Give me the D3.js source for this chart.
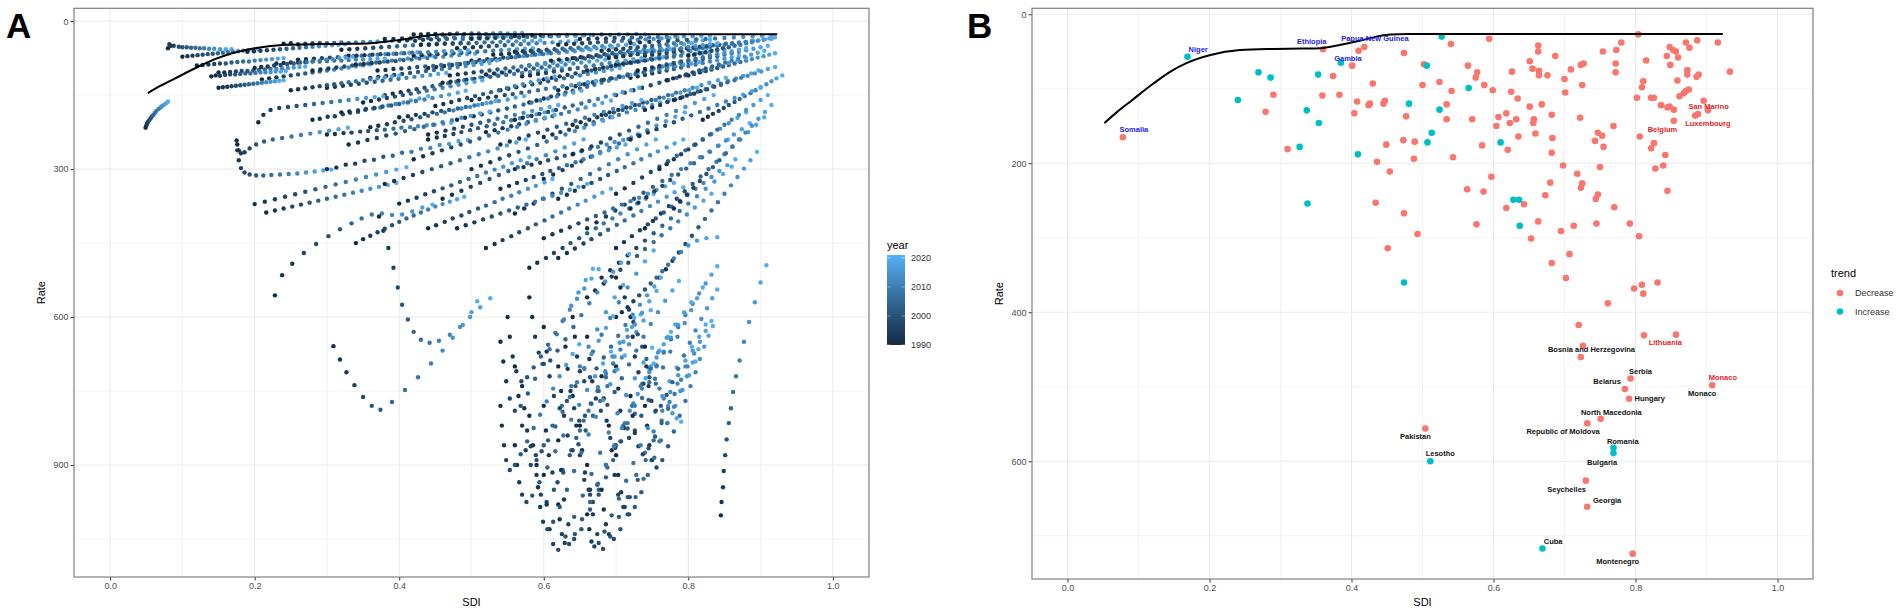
<!DOCTYPE html>
<html>
<head>
<meta charset="utf-8">
<script src="https://cdn.jsdelivr.net/npm/d3@7"></script>
<style>
  body { margin: 0; background: #fff; }
  svg text { font-family: "Liberation Sans", Arial, sans-serif; }
</style>
</head>
<body>
<div class="canvas"></div>
<script>
// ---- data ----------------------------------------------------------

// expected rate by SDI (black reference curve, both panels)
const curvePts = [[.052,146],[.07,131],[.09,116],[.121,93],[.145,77],[.169,65],[.20,55],[.243,48],
  [.29,46.5],[.33,46],[.356,45.5],[.38,42],[.41,36],[.435,30],[.455,27],[.48,26.5],[.55,26.5],
  [.65,26.5],[.75,26.5],[.85,26.5],[.923,26.5]];

// panel A: one row per country, [sdi, rate] for each year in yearsA
const yearsA = [1990,1992,1994,1996,1998,2000,2002,2004,2006,2008,2010,2012,2014,2016,2018,2020];
const trajectories = [
  [[.049,216],[.050,212],[.051,208],[.052,205],[.054,201],[.056,197],[.058,193],[.060,190],[.062,186],[.064,182],[.067,178],[.070,175],[.072,172],[.075,169],[.078,166],[.080,163]],
  [[.080,55],[.084,50],[.082,47],[.088,50],[.095,52],[.100,53],[.106,53],[.112,54],[.118,54],[.124,55],[.130,55],[.137,56],[.144,56],[.152,57],[.160,57],[.168,57]],
  [[.100,72],[.107,71],[.114,70],[.121,69],[.128,68],[.135,67],[.142,66],[.149,65],[.156,64],[.163,63],[.170,62],[.177,61],[.184,60],[.191,59],[.198,58],[.205,57]],
  [[.120,90],[.128,89],[.136,88],[.144,87],[.152,86],[.160,86],[.168,84],[.176,83],[.184,82],[.192,82],[.200,80],[.208,79],[.216,78],[.224,77],[.232,76],[.240,75]],
  [[.150,104],[.158,104],[.166,103],[.174,102],[.182,101],[.190,101],[.198,100],[.206,99],[.214,98],[.222,97],[.230,97],[.238,96],[.246,95],[.254,94],[.262,93],[.270,92]],
  [[.190,62],[.199,61],[.208,60],[.217,59],[.226,58],[.235,57],[.244,56],[.253,55],[.262,54],[.271,53],[.280,52],[.289,51],[.298,50],[.307,49],[.316,48],[.325,47]],
  [[.210,118],[.220,116],[.230,114],[.240,112],[.250,110],[.260,108],[.270,106],[.280,104],[.290,102],[.300,100],[.310,98],[.320,96],[.330,94],[.340,92],[.350,90],[.360,88]],
  [[.240,46],[.250,45],[.260,47],[.270,46],[.280,45],[.290,44],[.300,45],[.310,44],[.320,43],[.330,44],[.340,43],[.350,42],[.360,42],[.370,41],[.380,41],[.390,40]],
  [[.260,78],[.271,77],[.282,76],[.293,75],[.304,74],[.315,73],[.326,72],[.337,71],[.348,70],[.359,69],[.370,68],[.381,67],[.392,66],[.403,65],[.414,64],[.425,63]],
  [[.280,100],[.291,98],[.302,96],[.313,94],[.324,92],[.335,90],[.346,88],[.357,86],[.368,84],[.379,82],[.390,80],[.401,78],[.412,76],[.423,74],[.434,72],[.445,70]],
  [[.300,135],[.311,133],[.322,131],[.333,129],[.344,127],[.355,125],[.366,123],[.377,121],[.388,119],[.399,117],[.410,115],[.421,113],[.432,111],[.443,109],[.454,107],[.465,105]],
  [[.320,58],[.331,57],[.342,56],[.353,55],[.364,54],[.375,53],[.386,52],[.397,51],[.408,50],[.419,49],[.430,48],[.441,47],[.452,46],[.463,45],[.474,44],[.485,43]],
  [[.340,88],[.351,87],[.362,85],[.373,84],[.384,82],[.395,81],[.406,79],[.417,78],[.428,76],[.439,75],[.450,73],[.461,72],[.472,70],[.483,69],[.494,67],[.505,66]],
  [[.360,115],[.371,113],[.382,111],[.393,109],[.404,107],[.415,105],[.426,103],[.437,101],[.448,99],[.459,97],[.470,95],[.481,93],[.492,91],[.503,89],[.514,87],[.525,85]],
  [[.380,150],[.391,147],[.402,144],[.413,141],[.424,138],[.435,135],[.446,132],[.457,129],[.468,126],[.479,123],[.490,120],[.501,117],[.512,114],[.523,111],[.534,108],[.545,105]],
  [[.400,40],[.411,39],[.422,40],[.433,38],[.444,37],[.455,38],[.466,36],[.477,35],[.488,36],[.499,34],[.510,33],[.521,34],[.532,32],[.543,31],[.554,31],[.565,30]],
  [[.420,70],[.431,69],[.442,68],[.453,67],[.464,66],[.475,65],[.486,64],[.497,63],[.508,62],[.519,61],[.530,60],[.541,59],[.552,58],[.563,57],[.574,56],[.585,55]],
  [[.440,95],[.451,93],[.462,91],[.473,89],[.484,87],[.495,85],[.506,83],[.517,81],[.528,79],[.539,77],[.550,75],[.561,73],[.572,71],[.583,69],[.594,67],[.605,65]],
  [[.460,125],[.471,123],[.482,121],[.493,119],[.504,117],[.515,115],[.526,113],[.537,111],[.548,109],[.559,107],[.570,105],[.581,103],[.592,101],[.603,99],[.614,97],[.625,95]],
  [[.480,55],[.491,54],[.502,53],[.513,52],[.524,51],[.535,50],[.546,49],[.557,48],[.568,47],[.579,46],[.590,45],[.601,44],[.612,43],[.623,42],[.634,41],[.645,40]],
  [[.500,80],[.511,79],[.522,77],[.533,76],[.544,74],[.555,73],[.566,71],[.577,70],[.588,68],[.599,67],[.610,65],[.621,64],[.632,62],[.643,61],[.654,59],[.665,58]],
  [[.520,108],[.531,106],[.542,104],[.553,102],[.564,100],[.575,98],[.586,96],[.597,94],[.608,92],[.619,90],[.630,88],[.641,86],[.652,84],[.663,82],[.674,80],[.685,78]],
  [[.540,140],[.551,137],[.562,134],[.573,131],[.584,128],[.595,125],[.606,122],[.617,119],[.628,116],[.639,113],[.650,110],[.661,107],[.672,104],[.683,101],[.694,98],[.705,95]],
  [[.560,62],[.571,61],[.582,60],[.593,59],[.604,58],[.615,57],[.626,56],[.637,55],[.648,54],[.659,53],[.670,52],[.681,51],[.692,50],[.703,49],[.714,48],[.725,47]],
  [[.580,90],[.591,88],[.602,86],[.613,84],[.624,82],[.635,80],[.646,78],[.657,76],[.668,74],[.679,72],[.690,70],[.701,68],[.712,66],[.723,64],[.734,62],[.745,60]],
  [[.600,118],[.611,115],[.622,112],[.633,109],[.644,106],[.655,103],[.666,100],[.677,97],[.688,94],[.699,91],[.710,88],[.721,85],[.732,82],[.743,79],[.754,76],[.765,73]],
  [[.620,48],[.631,47],[.642,46],[.653,45],[.664,44],[.675,43],[.686,42],[.697,41],[.708,40],[.719,39],[.730,38],[.741,37],[.752,36],[.763,35],[.774,34],[.785,33]],
  [[.640,75],[.651,73],[.662,71],[.673,69],[.684,67],[.695,65],[.706,63],[.717,61],[.728,59],[.739,57],[.750,55],[.761,53],[.772,51],[.783,49],[.794,47],[.805,45]],
  [[.660,100],[.671,97],[.682,94],[.693,91],[.704,88],[.715,85],[.726,82],[.737,79],[.748,76],[.759,73],[.770,70],[.781,67],[.792,64],[.803,61],[.814,58],[.825,55]],
  [[.680,60],[.690,59],[.700,57],[.710,56],[.720,54],[.730,53],[.740,51],[.750,50],[.760,48],[.770,47],[.780,45],[.790,44],[.800,42],[.810,41],[.820,39],[.830,38]],
  [[.700,88],[.710,86],[.720,84],[.730,82],[.740,80],[.750,78],[.760,76],[.770,74],[.780,72],[.790,70],[.800,68],[.810,66],[.820,64],[.830,62],[.840,60],[.850,58]],
  [[.720,115],[.730,112],[.740,109],[.750,106],[.760,103],[.770,100],[.780,97],[.790,94],[.800,91],[.810,88],[.820,85],[.830,82],[.840,79],[.850,76],[.860,73],[.870,70]],
  [[.740,70],[.750,68],[.760,66],[.770,64],[.780,62],[.790,60],[.800,58],[.810,56],[.820,54],[.830,52],[.840,50],[.850,48],[.860,46],[.870,44],[.880,42],[.890,40]],
  [[.760,95],[.770,92],[.780,89],[.790,86],[.800,83],[.810,80],[.820,77],[.830,74],[.840,71],[.850,68],[.860,65],[.870,62],[.880,59],[.890,56],[.900,53],[.910,50]],
  [[.780,58],[.789,57],[.798,55],[.807,54],[.816,52],[.825,51],[.834,49],[.843,48],[.852,46],[.861,45],[.870,43],[.879,42],[.888,40],[.897,39],[.906,37],[.915,36]],
  [[.380,36],[.392,36],[.404,35],[.416,35],[.428,34],[.440,34],[.452,33],[.464,33],[.476,33],[.488,32],[.500,32],[.512,31],[.524,31],[.536,31],[.548,30],[.560,30]],
  [[.420,27],[.430,27],[.440,26],[.450,26],[.460,27],[.470,26],[.480,25],[.490,26],[.500,25],[.510,25],[.520,26],[.530,25],[.540,24],[.550,25],[.560,24],[.570,24]],
  [[.560,30],[.572,30],[.584,29],[.596,29],[.608,30],[.620,29],[.632,28],[.644,29],[.656,28],[.668,28],[.680,27],[.692,28],[.704,27],[.716,27],[.728,26],[.740,27]],
  [[.650,36],[.662,36],[.674,35],[.686,35],[.698,34],[.710,34],[.722,33],[.734,33],[.746,33],[.758,32],[.770,32],[.782,31],[.794,31],[.806,31],[.818,30],[.830,30]],
  [[.720,44],[.733,43],[.746,42],[.759,41],[.772,40],[.785,39],[.798,38],[.811,37],[.824,36],[.837,35],[.850,34],[.863,33],[.876,32],[.889,31],[.902,30],[.915,29]],
  [[.350,165],[.361,162],[.372,159],[.383,156],[.394,153],[.405,150],[.416,147],[.427,144],[.438,141],[.449,138],[.460,135],[.471,132],[.482,129],[.493,126],[.504,123],[.515,120]],
  [[.450,172],[.461,168],[.472,164],[.483,160],[.494,156],[.505,152],[.516,148],[.527,144],[.538,140],[.549,136],[.560,132],[.571,128],[.582,124],[.593,120],[.604,116],[.615,112]],
  [[.580,165],[.590,161],[.600,157],[.610,153],[.620,149],[.630,145],[.640,141],[.650,137],[.660,133],[.670,129],[.680,125],[.690,121],[.700,117],[.710,113],[.720,109],[.730,105]],
  [[.250,140],[.260,138],[.270,136],[.280,134],[.290,132],[.300,130],[.310,128],[.320,126],[.330,124],[.340,122],[.350,120],[.360,118],[.370,116],[.380,114],[.390,112],[.400,110]],
  [[.150,135],[.156,134],[.162,133],[.168,132],[.174,131],[.180,130],[.186,129],[.192,128],[.198,127],[.204,126],[.210,125],[.216,124],[.222,123],[.228,122],[.234,121],[.240,120]],
  [[.800,110],[.808,107],[.816,104],[.824,101],[.832,98],[.840,95],[.848,92],[.856,89],[.864,86],[.872,83],[.880,80],[.888,77],[.896,74],[.904,71],[.912,68],[.920,65]],
  [[.500,36],[.511,35],[.522,35],[.533,34],[.544,34],[.555,33],[.566,33],[.577,32],[.588,32],[.599,31],[.610,31],[.621,30],[.632,30],[.643,29],[.654,29],[.665,28]],
  [[.620,140],[.632,136],[.644,132],[.656,128],[.668,124],[.680,120],[.692,116],[.704,112],[.716,108],[.728,104],[.740,100],[.752,96],[.764,92],[.776,88],[.788,84],[.800,80]],
  [[.700,150],[.712,145],[.724,140],[.736,135],[.748,130],[.760,125],[.772,120],[.784,115],[.796,110],[.808,105],[.820,100],[.832,95],[.844,90],[.856,85],[.868,80],[.880,75]],
  [[.140,112],[.146,110],[.152,111],[.159,109],[.166,108],[.173,108],[.180,107],[.187,106],[.194,106],[.201,105],[.208,104],[.215,104],[.222,103],[.229,102],[.236,102],[.243,101]],
  [[.230,86],[.240,85],[.250,84],[.260,84],[.270,83],[.280,82],[.290,82],[.300,81],[.310,80],[.320,80],[.330,79],[.340,78],[.350,78],[.360,77],[.370,76],[.380,76]],
  [[.330,70],[.341,70],[.352,69],[.363,68],[.374,67],[.385,67],[.396,66],[.407,65],[.418,64],[.429,64],[.440,63],[.451,62],[.462,61],[.473,61],[.484,60],[.495,59]],
  [[.370,100],[.381,99],[.392,97],[.403,96],[.414,95],[.425,93],[.436,92],[.447,91],[.458,89],[.469,88],[.480,87],[.491,85],[.502,84],[.513,83],[.524,81],[.535,80]],
  [[.430,48],[.441,48],[.452,47],[.463,46],[.474,46],[.485,45],[.496,45],[.507,44],[.518,43],[.529,43],[.540,42],[.551,41],[.562,41],[.573,40],[.584,40],[.595,39]],
  [[.470,110],[.481,108],[.492,106],[.503,104],[.514,102],[.525,100],[.536,98],[.547,96],[.558,94],[.569,92],[.580,90],[.591,88],[.602,86],[.613,84],[.624,82],[.635,80]],
  [[.530,68],[.541,67],[.552,66],[.563,65],[.574,64],[.585,63],[.596,62],[.607,61],[.618,60],[.629,59],[.640,58],[.651,57],[.662,56],[.673,55],[.684,54],[.695,53]],
  [[.570,112],[.581,110],[.592,107],[.603,105],[.614,102],[.625,100],[.636,97],[.647,95],[.658,92],[.669,90],[.680,87],[.691,85],[.702,82],[.713,80],[.724,77],[.735,75]],
  [[.610,80],[.621,78],[.632,77],[.643,75],[.654,74],[.665,72],[.676,71],[.687,69],[.698,68],[.709,66],[.720,65],[.731,63],[.742,62],[.753,60],[.764,59],[.775,57]],
  [[.650,128],[.661,125],[.672,122],[.683,119],[.694,116],[.705,113],[.716,110],[.727,107],[.738,104],[.749,101],[.760,98],[.771,95],[.782,92],[.793,89],[.804,86],[.815,83]],
  [[.690,75],[.700,73],[.710,71],[.720,69],[.730,67],[.740,65],[.750,63],[.760,61],[.770,59],[.780,57],[.790,55],[.800,53],[.810,51],[.820,49],[.830,47],[.840,45]],
  [[.730,100],[.740,97],[.750,94],[.760,91],[.770,88],[.780,85],[.790,82],[.800,79],[.810,76],[.820,73],[.830,70],[.840,67],[.850,64],[.860,61],[.870,58],[.880,55]],
  [[.770,120],[.779,116],[.788,112],[.797,108],[.806,104],[.815,100],[.824,96],[.833,92],[.842,88],[.851,84],[.860,80],[.869,76],[.878,72],[.887,68],[.896,64],[.905,60]],
  [[.800,70],[.808,68],[.816,65],[.824,63],[.832,60],[.840,58],[.848,55],[.856,53],[.864,50],[.872,48],[.880,45],[.888,43],[.896,40],[.904,38],[.912,35],[.920,33]],
  [[.200,95],[.209,93],[.218,92],[.227,90],[.236,89],[.245,87],[.254,86],[.263,84],[.272,83],[.281,81],[.290,80],[.299,78],[.308,77],[.317,75],[.326,74],[.335,72]],
  // rate 120-300 band
  [[.280,200],[.290,198],[.301,194],[.311,193],[.322,189],[.332,186],[.343,184],[.353,180],[.364,177],[.374,175],[.385,171],[.395,168],[.406,165],[.416,161],[.428,157],[.440,152]],
  [[.320,185],[.331,183],[.343,181],[.354,178],[.366,176],[.377,173],[.389,171],[.400,168],[.412,165],[.423,162],[.435,159],[.446,156],[.458,152],[.469,149],[.481,145],[.492,141]],
  [[.360,215],[.371,212],[.383,209],[.394,205],[.406,202],[.417,199],[.429,195],[.440,192],[.452,188],[.463,185],[.475,181],[.486,177],[.498,174],[.509,170],[.521,166],[.533,162]],
  [[.400,195],[.412,193],[.423,190],[.435,188],[.446,185],[.458,182],[.469,180],[.481,177],[.492,174],[.504,171],[.515,168],[.527,165],[.538,162],[.550,159],[.561,155],[.573,152]],
  [[.440,240],[.452,236],[.463,233],[.475,229],[.486,225],[.498,221],[.509,217],[.521,213],[.532,209],[.544,205],[.555,201],[.567,197],[.578,193],[.590,189],[.601,185],[.613,181]],
  [[.480,200],[.491,196],[.503,193],[.514,189],[.526,185],[.537,181],[.549,177],[.560,173],[.572,169],[.583,165],[.595,161],[.606,157],[.618,153],[.629,149],[.641,145],[.652,141]],
  [[.520,225],[.532,221],[.543,217],[.555,213],[.566,209],[.578,205],[.589,201],[.601,197],[.612,193],[.624,188],[.635,184],[.647,179],[.658,175],[.670,170],[.681,166],[.693,161]],
  [[.560,200],[.571,196],[.583,192],[.594,188],[.606,184],[.617,180],[.629,175],[.640,171],[.652,167],[.663,162],[.675,158],[.686,153],[.698,149],[.709,144],[.721,140],[.732,135]],
  [[.600,235],[.612,230],[.623,225],[.635,220],[.646,215],[.658,210],[.669,205],[.681,200],[.692,195],[.704,190],[.715,185],[.727,180],[.738,175],[.750,170],[.761,165],[.773,160]],
  [[.640,210],[.651,205],[.663,200],[.674,195],[.686,190],[.697,185],[.709,180],[.720,175],[.732,170],[.743,165],[.755,160],[.766,155],[.778,150],[.789,145],[.801,140],[.812,135]],
  [[.680,190],[.691,185],[.703,180],[.714,175],[.726,170],[.737,165],[.749,160],[.760,155],[.772,150],[.783,145],[.795,140],[.806,135],[.818,130],[.829,125],[.841,120],[.852,115]],
  [[.740,180],[.750,175],[.761,170],[.771,164],[.782,159],[.792,154],[.803,148],[.813,143],[.824,138],[.834,132],[.845,127],[.855,122],[.866,116],[.876,111],[.887,106],[.897,100]],
  [[.780,160],[.789,156],[.798,151],[.808,147],[.817,142],[.826,138],[.836,133],[.845,129],[.854,124],[.864,120],[.873,115],[.882,111],[.892,106],[.901,102],[.910,97],[.920,93]],
  [[.820,200],[.827,194],[.834,188],[.842,182],[.849,176],[.856,170],[.864,164],[.871,158],[.878,152],[.886,146],[.893,140],[.900,134],[.908,128],[.915,122],[.922,116],[.930,110]],
  [[.500,160],[.511,158],[.523,155],[.534,153],[.546,150],[.557,148],[.569,145],[.580,143],[.592,140],[.603,137],[.615,135],[.626,132],[.638,130],[.649,127],[.661,124],[.672,122]],
  [[.205,205],[.212,190],[.222,180],[.234,176],[.246,174],[.258,172],[.270,170],[.282,168],[.294,166],[.306,164],[.318,162],[.330,160],[.342,158],[.354,156],[.366,154],[.378,152]],
  [[.176,250],[.178,262],[.181,268],[.186,266],[.193,258],[.202,250],[.213,244],[.225,240],[.238,237],[.251,234],[.264,231],[.277,228],[.290,225],[.303,222],[.316,219],[.329,216]],
  [[.300,230],[.311,229],[.323,227],[.334,226],[.346,224],[.357,223],[.369,221],[.380,220],[.392,218],[.403,216],[.415,215],[.426,213],[.438,211],[.449,210],[.461,208],[.472,206]],
  [[.560,300],[.572,296],[.583,291],[.595,287],[.606,282],[.618,278],[.629,273],[.641,269],[.652,264],[.664,259],[.675,255],[.687,250],[.698,245],[.710,241],[.721,236],[.733,231]],
  [[.620,360],[.632,352],[.643,344],[.655,336],[.666,328],[.678,320],[.689,312],[.701,304],[.712,296],[.724,288],[.735,280],[.747,272],[.758,264],[.770,256],[.781,248],[.793,240]],
  // middle band
  [[.175,242],[.176,262],[.178,282],[.181,298],[.186,307],[.193,311],[.202,313],[.212,313],[.223,312],[.235,311],[.247,310],[.259,309],[.271,307],[.283,305],[.295,303],[.306,301]],
  [[.200,371],[.214,366],[.228,361],[.242,356],[.256,351],[.270,346],[.284,341],[.298,336],[.312,331],[.326,326],[.340,321],[.354,316],[.368,311],[.382,306],[.396,301],[.410,296]],
  [[.216,388],[.228,384],[.240,380],[.252,376],[.264,372],[.276,368],[.288,364],[.300,360],[.312,356],[.324,352],[.336,348],[.348,344],[.360,340],[.372,336],[.384,332],[.396,328]],
  [[.228,556],[.238,515],[.252,492],[.268,470],[.285,452],[.302,436],[.318,422],[.334,410],[.348,400],[.362,392],[.376,390],[.390,393],[.404,392],[.418,386],[.432,378],[.446,372]],
  [[.372,396],[.378,425],[.385,460],[.392,500],[.398,540],[.404,575],[.412,605],[.420,630],[.430,646],[.442,652],[.455,648],[.470,636],[.484,620],[.498,600],[.512,580],[.526,562]],
  [[.309,659],[.318,686],[.327,712],[.338,738],[.350,762],[.362,780],[.374,788],[.390,772],[.408,748],[.426,722],[.444,694],[.460,668],[.474,642],[.488,616],[.500,590],[.508,568]],
  [[.300,300],[.313,297],[.326,291],[.339,289],[.352,283],[.365,281],[.378,275],[.391,273],[.404,267],[.417,265],[.430,259],[.443,257],[.456,251],[.469,249],[.482,243],[.495,241]],
  [[.330,250],[.343,246],[.356,241],[.369,237],[.382,232],[.395,228],[.408,223],[.421,219],[.434,214],[.447,210],[.460,205],[.473,201],[.486,196],[.499,192],[.512,187],[.525,183]],
  [[.380,330],[.393,324],[.406,318],[.419,312],[.432,306],[.445,300],[.458,294],[.471,288],[.484,282],[.497,276],[.510,270],[.523,264],[.536,258],[.549,252],[.562,246],[.575,240]],
  [[.420,280],[.433,274],[.446,268],[.459,262],[.472,256],[.485,250],[.498,244],[.511,238],[.524,232],[.537,226],[.550,220],[.563,214],[.576,208],[.589,202],[.602,196],[.615,190]],
  [[.460,360],[.473,352],[.486,344],[.499,336],[.512,328],[.525,320],[.538,312],[.551,304],[.564,296],[.577,288],[.590,280],[.603,272],[.616,264],[.629,256],[.642,248],[.655,240]],
  [[.500,300],[.513,293],[.526,286],[.539,279],[.552,272],[.565,265],[.578,258],[.591,251],[.604,244],[.617,237],[.630,230],[.643,223],[.656,216],[.669,209],[.682,202],[.695,195]],
  [[.540,250],[.553,244],[.566,238],[.579,232],[.592,226],[.605,220],[.618,214],[.631,208],[.644,202],[.657,196],[.670,190],[.683,184],[.696,178],[.709,172],[.722,166],[.735,160]],
  [[.560,390],[.573,380],[.586,370],[.599,360],[.612,350],[.625,340],[.638,330],[.651,320],[.664,310],[.677,300],[.690,290],[.703,280],[.716,270],[.729,260],[.742,250],[.755,240]],
  [[.600,320],[.613,311],[.626,302],[.639,293],[.652,284],[.665,275],[.678,266],[.691,257],[.704,248],[.717,239],[.730,230],[.743,221],[.756,212],[.769,203],[.782,194],[.795,185]],
  [[.640,270],[.653,262],[.666,254],[.679,246],[.692,238],[.705,230],[.718,222],[.731,214],[.744,206],[.757,198],[.770,190],[.783,182],[.796,174],[.809,166],[.822,158],[.835,150]],
  [[.660,420],[.673,408],[.686,396],[.699,384],[.712,372],[.725,360],[.738,348],[.751,336],[.764,324],[.777,312],[.790,300],[.803,288],[.816,276],[.829,264],[.842,252],[.855,240]],
  [[.700,350],[.712,339],[.724,328],[.736,317],[.748,306],[.760,295],[.772,284],[.784,273],[.796,262],[.808,251],[.820,240],[.832,229],[.844,218],[.856,207],[.868,196],[.880,185]],
  [[.720,240],[.732,233],[.744,226],[.756,219],[.768,212],[.780,205],[.792,198],[.804,191],[.816,184],[.828,177],[.840,170],[.852,163],[.864,156],[.876,149],[.888,142],[.900,135]],
  [[.740,420],[.751,405],[.762,390],[.773,375],[.784,360],[.795,345],[.806,330],[.817,315],[.828,300],[.839,285],[.850,270],[.861,255],[.872,240],[.883,225],[.894,210],[.905,195]],
  [[.600,440],[.612,432],[.624,425],[.636,418],[.648,410],[.660,402],[.672,395],[.684,388],[.696,380],[.708,372],[.720,365],[.732,358],[.744,350],[.756,342],[.768,335],[.780,328]],
  [[.480,420],[.492,414],[.504,408],[.516,402],[.528,396],[.540,390],[.552,384],[.564,378],[.576,372],[.588,366],[.600,360],[.612,354],[.624,348],[.636,342],[.648,336],[.660,330]],
  [[.440,230],[.452,226],[.464,222],[.476,218],[.488,214],[.500,210],[.512,206],[.524,202],[.536,198],[.548,194],[.560,190],[.572,186],[.584,182],[.596,178],[.608,174],[.620,170]],
  [[.760,300],[.770,290],[.780,280],[.790,270],[.800,260],[.810,250],[.820,240],[.830,230],[.840,220],[.850,210],[.860,200],[.870,190],[.880,180],[.890,170],[.900,160],[.910,150]],
  [[.680,520],[.692,505],[.704,490],[.716,475],[.728,460],[.740,445],[.752,430],[.764,415],[.776,400],[.788,385],[.800,370],[.812,355],[.824,340],[.836,325],[.848,310],[.860,295]],
  [[.400,370],[.412,364],[.424,358],[.436,351],[.448,345],[.460,339],[.472,333],[.484,326],[.496,320],[.508,314],[.520,307],[.532,301],[.544,295],[.556,288],[.568,282],[.580,276]],
  [[.440,420],[.451,414],[.463,407],[.474,400],[.486,394],[.497,387],[.509,380],[.520,374],[.532,367],[.543,360],[.555,354],[.566,347],[.578,340],[.589,334],[.601,327],[.612,320]],
  [[.520,460],[.532,452],[.543,444],[.555,436],[.566,428],[.578,420],[.589,412],[.601,404],[.612,396],[.624,388],[.635,380],[.647,372],[.658,364],[.670,356],[.681,348],[.693,340]],
  [[.580,500],[.591,490],[.603,480],[.614,470],[.626,460],[.637,450],[.649,440],[.660,430],[.672,420],[.683,410],[.695,400],[.706,390],[.718,380],[.729,370],[.741,360],[.752,350]],
  [[.620,480],[.632,470],[.643,461],[.655,451],[.666,442],[.678,432],[.689,423],[.701,413],[.712,404],[.724,394],[.735,385],[.747,375],[.758,366],[.770,356],[.781,347],[.793,337]],
  [[.700,460],[.711,448],[.722,436],[.733,424],[.744,412],[.755,400],[.766,388],[.777,376],[.788,364],[.799,352],[.810,340],[.821,328],[.832,316],[.843,304],[.854,292],[.865,280]],
  [[.720,380],[.731,368],[.742,357],[.753,345],[.764,334],[.775,322],[.786,311],[.797,299],[.808,288],[.819,276],[.830,265],[.841,253],[.852,242],[.863,230],[.874,219],[.885,207]],
  [[.780,380],[.789,366],[.798,352],[.807,338],[.816,324],[.825,310],[.834,296],[.843,282],[.852,268],[.861,254],[.870,240],[.879,226],[.888,212],[.897,198],[.906,184],[.915,170]],
  [[.540,340],[.552,334],[.563,328],[.575,322],[.586,316],[.598,310],[.609,304],[.621,298],[.632,292],[.644,286],[.655,280],[.667,274],[.678,268],[.690,262],[.701,256],[.713,250]],
  [[.340,450],[.350,442],[.360,435],[.370,428],[.380,421],[.390,414],[.400,407],[.410,400],[.420,394],[.430,388],[.440,382],[.450,376],[.460,371],[.470,366],[.480,361],[.490,356]],
  [[.660,560],[.671,546],[.683,532],[.694,518],[.706,504],[.717,490],[.729,476],[.740,462],[.752,448],[.763,434],[.775,420],[.786,406],[.798,392],[.809,378],[.821,364],[.832,350]],
  [[.760,520],[.769,503],[.778,486],[.787,469],[.796,452],[.805,435],[.814,418],[.823,401],[.832,384],[.841,367],[.850,350],[.859,333],[.868,316],[.877,299],[.886,282],[.895,265]],
  // deep cluster
  [[.560,700],[.565,760],[.570,820],[.575,870],[.582,900],[.590,890],[.600,860],[.612,820],[.625,780],[.638,740],[.650,700],[.662,660],[.674,625],[.686,590],[.698,560],[.710,535]],
  [[.580,800],[.585,860],[.590,920],[.596,960],[.604,975],[.614,950],[.626,910],[.638,870],[.650,830],[.662,790],[.674,750],[.686,715],[.698,680],[.710,650],[.722,620],[.734,595]],
  [[.620,850],[.624,910],[.628,970],[.634,1020],[.642,1050],[.652,1030],[.664,990],[.676,950],[.688,905],[.700,860],[.712,815],[.724,775],[.736,735],[.748,700],[.760,668],[.772,640]],
  [[.640,760],[.645,820],[.650,880],[.656,930],[.664,960],[.674,940],[.686,900],[.698,860],[.710,820],[.722,780],[.734,740],[.746,705],[.758,672],[.770,642],[.782,615],[.794,590]],
  [[.660,900],[.664,950],[.668,1000],[.674,1040],[.682,1070],[.692,1045],[.704,1005],[.716,965],[.728,920],[.740,875],[.752,832],[.764,790],[.775,752],[.786,718],[.796,688],[.805,660]],
  [[.600,620],[.604,670],[.608,720],[.614,760],[.622,785],[.632,770],[.644,740],[.656,705],[.668,670],[.680,636],[.692,602],[.704,570],[.716,540],[.728,512],[.740,487],[.752,465]],
  [[.690,820],[.694,870],[.698,920],[.703,960],[.710,985],[.719,965],[.730,930],[.741,890],[.752,850],[.763,810],[.774,772],[.785,735],[.796,700],[.806,668],[.815,640],[.824,615]],
  [[.540,650],[.544,690],[.548,730],[.553,765],[.560,790],[.568,780],[.578,755],[.588,725],[.598,695],[.608,665],[.618,635],[.628,605],[.638,577],[.648,550],[.658,525],[.668,502]],
  [[.700,700],[.703,745],[.706,790],[.711,825],[.718,845],[.726,830],[.735,800],[.745,768],[.755,735],[.765,702],[.775,670],[.785,640],[.795,612],[.804,586],[.812,562],[.820,540]],
  [[.620,700],[.624,750],[.628,800],[.633,840],[.640,870],[.648,858],[.658,830],[.668,800],[.678,770],[.688,740],[.698,710],[.708,682],[.718,655],[.728,630],[.738,607],[.748,586]],
  [[.660,640],[.663,685],[.667,730],[.672,765],[.679,790],[.688,778],[.698,752],[.708,724],[.718,696],[.728,668],[.738,640],[.748,614],[.758,590],[.768,567],[.778,546],[.787,527]],
  [[.580,560],[.584,600],[.588,640],[.593,672],[.600,695],[.609,688],[.619,668],[.630,645],[.641,620],[.652,596],[.663,572],[.674,550],[.685,528],[.696,508],[.707,490],[.718,472]],
  [[.720,600],[.723,640],[.726,680],[.731,712],[.738,735],[.746,722],[.756,698],[.766,672],[.776,645],[.786,620],[.796,596],[.806,573],[.815,552],[.824,532],[.832,514],[.840,497]],
  [[.600,920],[.604,980],[.608,1030],[.613,1060],[.620,1072],[.630,1045],[.642,1005],[.654,962],[.666,918],[.678,875],[.690,834],[.702,795],[.714,758],[.726,724],[.738,692],[.750,662]],
  [[.680,950],[.683,990],[.686,1020],[.690,1040],[.697,1050],[.706,1030],[.716,1000],[.727,965],[.738,928],[.749,890],[.760,852],[.771,815],[.782,780],[.792,748],[.801,718],[.810,690]],
  [[.560,860],[.563,900],[.566,935],[.570,960],[.576,975],[.584,962],[.594,935],[.605,905],[.616,872],[.627,840],[.638,808],[.649,778],[.660,748],[.671,720],[.682,694],[.693,670]],
  [[.640,600],[.643,640],[.646,680],[.650,710],[.656,730],[.664,722],[.673,704],[.683,682],[.693,660],[.703,638],[.713,616],[.723,595],[.733,575],[.743,556],[.753,538],[.762,520]],
  [[.845,1002],[.846,975],[.848,945],[.849,912],[.851,880],[.853,848],[.856,815],[.859,785],[.862,752],[.866,720],[.871,688],[.877,650],[.884,610],[.892,570],[.900,530],[.908,495]],
  [[.740,780],[.743,820],[.746,860],[.750,890],[.756,905],[.764,890],[.772,862],[.780,832],[.788,800],[.796,770],[.803,740],[.810,712],[.816,685],[.822,660],[.828,638],[.834,618]],
  [[.540,780],[.542,820],[.545,860],[.548,890],[.553,910],[.560,900],[.568,878],[.577,852],[.586,825],[.595,798],[.604,771],[.613,745],[.622,720],[.631,697],[.640,675],[.649,655]],
  [[.700,520],[.706,540],[.712,560],[.718,585],[.724,610],[.730,635],[.736,660],[.742,685],[.748,705],[.754,725],[.760,745],[.766,765],[.772,780],[.778,795],[.784,805],[.790,812]],
  [[.700,600],[.708,590],[.716,580],[.724,568],[.732,556],[.740,544],[.748,532],[.756,520],[.764,507],[.772,494],[.780,481],[.790,468],[.800,455],[.812,445],[.825,440],[.840,438]],
  [[.600,780],[.603,830],[.607,880],[.612,915],[.619,935],[.627,915],[.636,880],[.645,845],[.655,810],[.665,775],[.675,742],[.685,710],[.695,680],[.705,652],[.715,626],[.725,602]],
  [[.650,820],[.653,870],[.657,915],[.662,950],[.668,975],[.676,960],[.686,925],[.696,890],[.706,852],[.716,815],[.726,780],[.736,745],[.746,712],[.756,682],[.766,655],[.776,630]],
  [[.700,880],[.703,920],[.707,955],[.712,985],[.718,1000],[.726,985],[.735,955],[.744,920],[.753,885],[.762,850],[.771,815],[.780,782],[.789,750],[.798,720],[.806,692],[.814,665]],
  [[.570,740],[.573,785],[.577,830],[.582,862],[.589,880],[.597,872],[.606,850],[.616,822],[.626,792],[.636,762],[.646,732],[.656,703],[.666,675],[.676,648],[.686,622],[.696,598]],
  [[.630,660],[.633,705],[.637,750],[.642,785],[.649,810],[.657,800],[.666,776],[.676,750],[.686,722],[.696,694],[.706,666],[.716,640],[.726,615],[.736,591],[.746,568],[.756,547]],
  [[.680,720],[.683,765],[.687,810],[.692,845],[.699,865],[.707,852],[.716,826],[.726,796],[.736,764],[.746,732],[.756,700],[.766,670],[.776,642],[.786,616],[.795,592],[.804,570]],
  [[.720,760],[.723,800],[.726,835],[.731,862],[.737,878],[.745,866],[.754,842],[.763,815],[.772,786],[.781,756],[.790,727],[.799,700],[.808,674],[.816,650],[.824,628],[.832,608]],
  [[.620,980],[.622,1010],[.625,1040],[.629,1058],[.635,1060],[.643,1040],[.653,1010],[.664,975],[.675,938],[.686,900],[.697,862],[.708,825],[.719,790],[.730,756],[.741,724],[.752,694]],
  [[.660,1000],[.663,1030],[.666,1055],[.670,1065],[.676,1058],[.684,1035],[.694,1002],[.704,968],[.714,932],[.724,896],[.734,860],[.744,825],[.754,792],[.764,760],[.774,730],[.784,702]],
  [[.550,600],[.553,640],[.557,680],[.562,710],[.569,730],[.577,722],[.586,702],[.596,680],[.606,656],[.616,632],[.626,608],[.636,585],[.646,563],[.656,542],[.666,522],[.676,503]],
  [[.740,660],[.742,700],[.745,740],[.749,770],[.755,790],[.762,780],[.770,758],[.778,732],[.786,705],[.794,678],[.802,652],[.810,627],[.818,604],[.826,582],[.833,562],[.840,544]],
  [[.590,900],[.592,945],[.595,985],[.599,1015],[.605,1030],[.613,1015],[.622,985],[.632,950],[.642,912],[.652,875],[.662,838],[.672,802],[.682,768],[.692,736],[.702,706],[.712,678]]
];

// panel B: 2021 values [sdi, rate], split by trend
const decreasePts = [
  [.078,165],[.360,47],[.410,49],[.418,44],[.401,69],[.374,83],[.290,108],[.279,131],[.359,109],[.383,108],
  [.310,181],[.408,117],[.424,122],[.426,120],[.404,133],[.430,93],[.445,120],[.447,116],[.449,175],[.436,198],
  [.454,211],[.434,253],[.451,314],[.474,267],[.493,295],[.474,52],[.477,137],[.473,169],[.489,171],[.488,194],
  [.502,67],[.500,95],[.540,40],[.524,91],[.541,103],[.534,121],[.534,141],[.543,192],[.564,69],[.577,78],
  [.575,85],[.587,95],[.599,102],[.570,141],[.584,176],[.597,218],[.563,235],[.586,238],[.576,282],[.594,33],
  [.626,77],[.625,104],[.634,113],[.607,138],[.618,133],[.604,150],[.623,146],[.632,141],[.635,164],[.620,182],
  [.643,255],[.618,260],[.653,301],[.663,278],[.651,63],[.655,73],[.663,50],[.663,42],[.664,76],[.664,82],
  [.676,82],[.687,56],[.651,124],[.668,121],[.657,141],[.656,146],[.659,160],[.682,135],[.683,166],[.682,186],
  [.698,203],[.680,226],[.673,243],[.695,291],[.682,334],[.707,322],[.702,354],[.713,284],[.700,87],[.701,105],
  [.709,74],[.723,68],[.727,66],[.725,95],[.722,139],[.718,214],[.725,227],[.723,233],[.747,159],[.753,163],
  [.743,170],[.755,178],[.750,205],[.747,242],[.744,248],[.745,281],[.754,50],[.773,48],[.780,38],[.772,66],
  [.772,78],[.769,150],[.770,259],[.792,281],[.805,298],[.804,27],[.815,62],[.811,90],[.809,98],[.802,112],
  [.806,164],[.822,112],[.826,112],[.836,122],[.845,125],[.826,173],[.822,180],[.842,189],[.828,207],[.839,203],
  [.845,237],[.798,368],[.809,363],[.811,375],[.831,360],[.848,44],[.853,48],[.857,50],[.844,56],[.860,58],
  [.849,68],[.871,38],[.876,45],[.887,35],[.916,38],[.873,75],[.873,81],[.886,84],[.889,81],[.933,77],
  [.859,89],[.862,110],[.868,106],[.871,103],[.875,101],[.854,128],[.848,124],[.854,143],[.896,116],[.902,129],
  [.884,136],[.888,134],[.761,388],[.720,417],[.812,431],[.857,430],[.726,445],[.723,460],[.793,489],[.785,503],
  [.791,516],[.908,498],[.751,543],[.732,549],[.504,556],[.730,626],[.732,661],[.796,724]
];
const increasePts = [
  [.169,57],[.240,115],[.385,65],[.353,81],[.269,78],[.286,85],[.337,129],[.354,146],[.327,178],[.338,254],
  [.409,188],[.474,360],[.481,120],[.506,69],[.507,172],[.513,159],[.527,30],[.524,128],[.565,99],[.610,172],
  [.628,249],[.636,249],[.637,284],[.511,600],[.769,582],[.769,589],[.669,717]
];

// labelled countries: name, label anchor [sdi, rate], label group
const labels = [
  ['Niger', .184, 47, 'low'], ['Somalia', .0935, 155, 'low'], ['Ethiopia', .344, 37, 'low'],
  ['Papua New Guinea', .433, 33, 'low'], ['Gambia', .395, 59, 'low'],
  ['San Marino', .903, 124, 'high'], ['Luxembourg', .902, 146, 'high'], ['Belgium', .838, 154, 'high'],
  ['Lithuania', .842, 440, 'high'], ['Monaco', .923, 488, 'high'],
  ['Monaco', .894, 509, 'top'], ['Bosnia and Herzegovina', .738, 450, 'top'], ['Serbia', .807, 479, 'top'],
  ['Belarus', .760, 493, 'top'], ['Hungary', .820, 515, 'top'], ['North Macedonia', .766, 534, 'top'],
  ['Republic of Moldova', .698, 560, 'top'], ['Pakistan', .490, 567, 'top'], ['Lesotho', .525, 590, 'top'],
  ['Romania', .782, 573, 'top'], ['Bulgaria', .753, 601, 'top'], ['Seychelles', .703, 638, 'top'],
  ['Georgia', .760, 652, 'top'], ['Cuba', .684, 708, 'top'], ['Montenegro', .775, 735, 'top']
];

// ticks
const sdiTicks = [0, .2, .4, .6, .8, 1];
const sdiMinor = [.1, .3, .5, .7, .9];
const rateTicksA = [0, 300, 600, 900];
const rateMinorA = [150, 450, 750, 1050];
const rateTicksB = [0, 200, 400, 600];
const rateMinorB = [100, 300, 500, 700];
const yearTicks = [1990, 2000, 2010, 2020];
const trendNames = ['Decrease', 'Increase'];

// ---- layout --------------------------------------------------------
const W = 1901, H = 611;
const pA = { left: 74, right: 869, top: 8.3, bottom: 577 };
const pB = { left: 1032, right: 1813, top: 8.3, bottom: 579 };

const svg = d3.select('.canvas').append('svg')
  .attr('width', W).attr('height', H);
svg.append('rect').attr('width', W).attr('height', H).attr('fill', '#fff');

const xA = d3.scaleLinear().domain([-0.05, 1.05]).range([pA.left, pA.right]);
const yA = d3.scaleLinear().domain([-26, 1127]).range([pA.top, pA.bottom]);
const xB = d3.scaleLinear().domain([-0.05, 1.05]).range([pB.left, pB.right]);
const yB = d3.scaleLinear().domain([-8, 758]).range([pB.top, pB.bottom]);

const yearColour = d3.scaleLinear().domain([1990, 2021])
  .range(['#132B43', '#56B1F7']).interpolate(d3.interpolateLab);
const trendColour = d3.scaleOrdinal().domain(trendNames).range(['#F8766D', '#00BFC4']);
const labelColour = { low: '#1c1cf0', high: '#e5232b', top: '#111' };

// grid, ticks and titles for one panel
function frame(p, x, y, yTicks, yMinor, id) {
  const g = svg.append('g');
  const grid = (vals, w) => {
    g.selectAll(null).data(vals.x).enter().append('line')
      .attr('x1', d => x(d)).attr('x2', d => x(d))
      .attr('y1', p.top).attr('y2', p.bottom)
      .attr('stroke', '#ebebeb').attr('stroke-width', w);
    g.selectAll(null).data(vals.y).enter().append('line')
      .attr('x1', p.left).attr('x2', p.right)
      .attr('y1', d => y(d)).attr('y2', d => y(d))
      .attr('stroke', '#ebebeb').attr('stroke-width', w);
  };
  grid({ x: sdiMinor, y: yMinor }, 0.6);
  grid({ x: sdiTicks, y: yTicks }, 1.1);

  svg.append('clipPath').attr('id', id)
    .append('rect').attr('x', p.left).attr('y', p.top)
    .attr('width', p.right - p.left).attr('height', p.bottom - p.top);

  const xAxis = svg.append('g').attr('transform', `translate(0,${p.bottom})`)
    .call(d3.axisBottom(x).tickValues(sdiTicks).tickSize(3.5).tickPadding(2).tickFormat(d3.format('.1f')));
  const yAxis = svg.append('g').attr('transform', `translate(${p.left},0)`)
    .call(d3.axisLeft(y).tickValues(yTicks).tickSize(3.5).tickPadding(2));
  [xAxis, yAxis].forEach(a => {
    a.select('.domain').remove();
    a.selectAll('line').attr('stroke', '#333');
    a.selectAll('text').attr('fill', '#4d4d4d').attr('font-size', 9)
      .attr('font-family', '"Liberation Sans", Arial, sans-serif');
  });

  svg.append('text').text('SDI')
    .attr('x', (p.left + p.right) / 2).attr('y', 606)
    .attr('text-anchor', 'middle').attr('font-size', 11).attr('fill', '#000');
  svg.append('text').text('Rate')
    .attr('transform', `translate(${p.left - 29},${(p.top + p.bottom) / 2}) rotate(-90)`)
    .attr('text-anchor', 'middle').attr('font-size', 11).attr('fill', '#000');
  return g;
}

function border(p) {
  svg.append('rect')
    .attr('x', p.left).attr('y', p.top)
    .attr('width', p.right - p.left).attr('height', p.bottom - p.top)
    .attr('fill', 'none').attr('stroke', '#7f7f7f').attr('stroke-width', 1.2);
}

// ---- panel A -------------------------------------------------------
frame(pA, xA, yA, rateTicksA, rateMinorA, 'clipA');

const dotsA = [];
trajectories.forEach(t => t.forEach((d, i) => dotsA.push({ sdi: d[0], rate: d[1], year: yearsA[i] })));

const gA = svg.append('g').attr('clip-path', 'url(#clipA)');
gA.selectAll('circle').data(dotsA).enter().append('circle')
  .attr('cx', d => xA(d.sdi))
  .attr('cy', d => yA(d.rate))
  .attr('r', 2.2)
  .attr('fill', d => yearColour(d.year));

const line = (x, y) => d3.line().curve(d3.curveMonotoneX).x(d => x(d[0])).y(d => y(d[1]));
gA.append('path').datum(curvePts)
  .attr('d', line(xA, yA))
  .attr('fill', 'none').attr('stroke', '#000').attr('stroke-width', 2);
border(pA);

// colourbar legend
const grad = svg.append('defs').append('linearGradient')
  .attr('id', 'yearGrad').attr('x1', 0).attr('x2', 0).attr('y1', 1).attr('y2', 0);
[1990, 1995, 2000, 2005, 2010, 2015, 2021].forEach(yr => {
  grad.append('stop').attr('offset', (yr - 1990) / 31).attr('stop-color', yearColour(yr));
});
const barY = d3.scaleLinear().domain([1990, 2021]).range([345, 255]);
svg.append('text').text('year').attr('x', 887).attr('y', 249).attr('font-size', 11).attr('fill', '#000');
svg.append('rect').attr('x', 887).attr('y', 255).attr('width', 18).attr('height', 90)
  .attr('fill', 'url(#yearGrad)');
yearTicks.forEach(yr => {
  [[887, 890.5], [901.5, 905]].forEach(([a, b]) => {
    svg.append('line').attr('x1', a).attr('x2', b)
      .attr('y1', barY(yr)).attr('y2', barY(yr))
      .attr('stroke', '#fff').attr('stroke-width', 0.6).attr('opacity', 0.7);
  });
  svg.append('text').text(yr).attr('x', 911).attr('y', barY(yr) + 3.2)
    .attr('font-size', 9).attr('fill', '#333');
});

// ---- panel B -------------------------------------------------------
frame(pB, xB, yB, rateTicksB, rateMinorB, 'clipB');
const gB = svg.append('g').attr('clip-path', 'url(#clipB)');

const dotsB = decreasePts.map(d => ({ sdi: d[0], rate: d[1], trend: 'Decrease' }))
  .concat(increasePts.map(d => ({ sdi: d[0], rate: d[1], trend: 'Increase' })));

gB.selectAll('circle').data(dotsB).enter().append('circle')
  .attr('cx', d => xB(d.sdi))
  .attr('cy', d => yB(d.rate))
  .attr('r', 3.3)
  .attr('fill', d => trendColour(d.trend));

gB.append('path').datum(curvePts)
  .attr('d', line(xB, yB))
  .attr('fill', 'none').attr('stroke', '#000').attr('stroke-width', 2);

gB.selectAll('text').data(labels).enter().append('text')
  .text(d => d[0])
  .attr('x', d => xB(d[1]))
  .attr('y', d => yB(d[2]) + 2.6)
  .attr('text-anchor', 'middle')
  .attr('font-size', 7.5)
  .attr('font-weight', 'bold')
  .attr('fill', d => labelColour[d[3]]);
border(pB);

// trend legend
svg.append('text').text('trend').attr('x', 1831).attr('y', 277).attr('font-size', 11).attr('fill', '#000');
trendNames.forEach((t, i) => {
  svg.append('circle').attr('cx', 1840).attr('cy', 293 + i * 18.5).attr('r', 3.3).attr('fill', trendColour(t));
  svg.append('text').text(t).attr('x', 1855).attr('y', 296.2 + i * 18.5).attr('font-size', 9).attr('fill', '#333');
});

// panel letters
svg.append('text').text('A').attr('x', 6).attr('y', 38)
  .attr('font-size', 35).attr('font-weight', 'bold').attr('fill', '#000');
svg.append('text').text('B').attr('x', 967).attr('y', 38)
  .attr('font-size', 35).attr('font-weight', 'bold').attr('fill', '#000');
</script>
</body>
</html>
